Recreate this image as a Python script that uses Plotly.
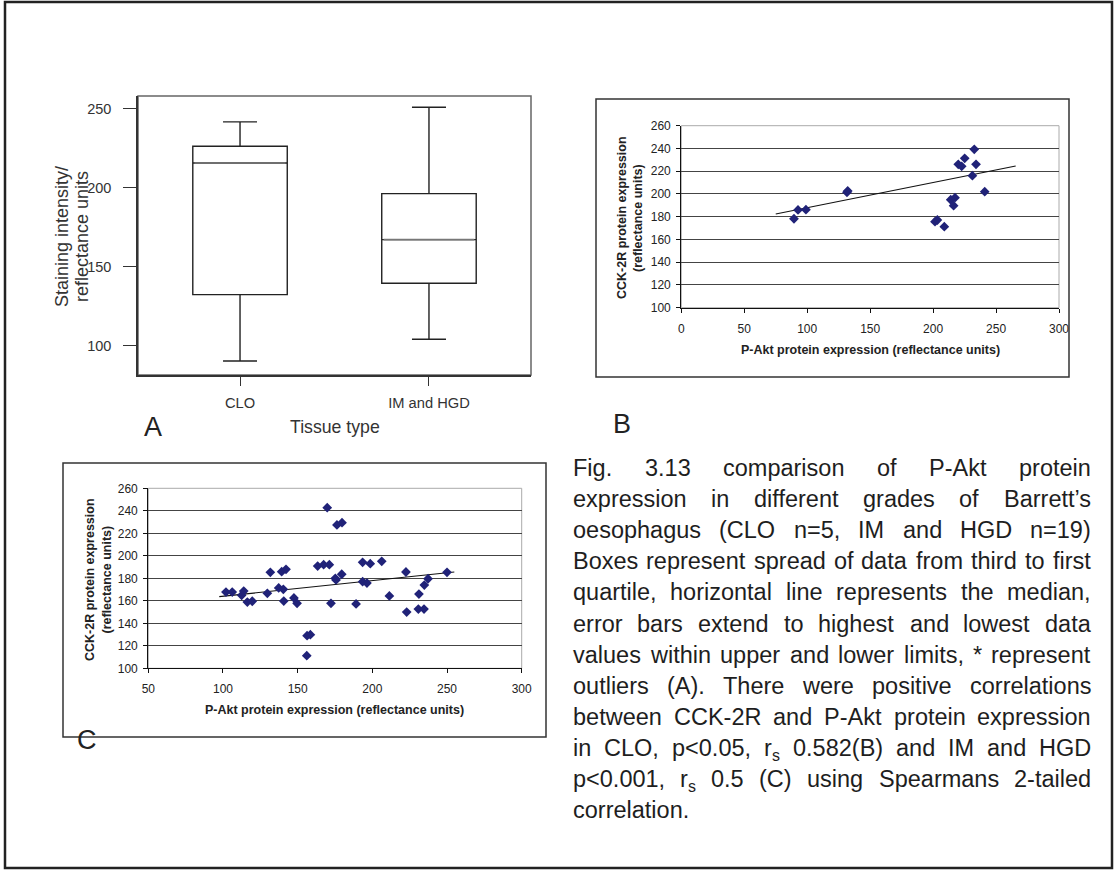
import plotly.graph_objects as go

W, H = 1116, 872
FONT = "Liberation Sans, Arial, sans-serif"

# ---------------- data ----------------
categories = ["CLO", "IM and HGD"]
box_q1 = [132.5, 139.7]
box_median = [215.8, 167.3]
box_q3 = [226.4, 196.4]
box_lower = [90.5, 104.2]
box_upper = [241.8, 251.1]

clo_akt = [89.5, 92.7, 99.0, 131.6, 132.2, 201.5, 203.4, 208.9, 214.0, 217.4,
           216.3, 220.0, 222.7, 225.1, 232.7, 234.1, 231.2, 241.0]
clo_cck = [178.2, 185.9, 186.2, 201.4, 202.6, 175.6, 177.1, 171.2, 194.9, 196.7,
           189.7, 226.1, 224.3, 231.3, 239.2, 226.1, 216.1, 202.0]
clo_trend_x = [75.0, 265.6]
clo_trend_y = [182.4, 224.6]

im_akt = [102.0, 106.2, 112.5, 113.9, 116.3, 119.6, 129.7, 131.7, 137.3, 139.3,
          140.4, 142.2, 140.7, 147.5, 149.6, 156.3, 158.5, 156.1, 163.4, 167.4,
          171.2, 169.8, 172.3, 175.2, 175.7, 176.3, 179.7, 179.5, 189.1, 193.5,
          193.5, 196.4, 198.6, 206.3, 211.4, 222.5, 223.0, 231.2, 230.8, 234.6,
          234.8, 237.3, 250.0]
im_cck = [167.8, 167.8, 164.9, 168.7, 158.9, 159.6, 166.7, 185.3, 171.4, 185.9,
          170.2, 188.0, 159.8, 162.5, 157.8, 129.0, 129.9, 111.2, 190.9, 192.1,
          192.1, 242.8, 157.8, 180.0, 178.5, 227.4, 229.4, 183.6, 157.2, 194.2,
          177.0, 175.8, 193.0, 195.1, 164.3, 185.6, 150.0, 166.0, 152.7, 152.7,
          174.0, 179.6, 185.3]
im_trend_x = [97.5, 254.9]
im_trend_y = [163.7, 185.6]

caption_lines = [
    "Fig. 3.13 comparison of P-Akt protein",
    "expression in different grades of Barrett\u2019s",
    "oesophagus (CLO n=5, IM and HGD n=19)",
    "Boxes represent spread of data from third to first",
    "quartile, horizontal line represents the median,",
    "error bars extend to highest and lowest data",
    "values within upper and lower limits, * represent",
    "outliers (A).  There were positive correlations",
    "between CCK-2R and P-Akt protein expression",
    "in CLO, p<0.05, r_s 0.582(B) and IM and HGD",
    "p<0.001, r_s 0.5 (C) using Spearmans 2-tailed",
    "correlation.",
]


# ---------------- helpers ----------------
def fx(p):
    return p / W


def fy(p):
    return 1 - p / H


HELV = {' ': 278, '!': 278, '"': 355, '#': 556, '$': 556, '%': 889, '&': 667,
        "'": 191, '\u2019': 222, '(': 333, ')': 333, '*': 389, '+': 584, ',': 278,
        '-': 333, '.': 278, '/': 278, ':': 278, ';': 278, '<': 584, '=': 584,
        '>': 584, '?': 556, '@': 1015,
        'A': 667, 'B': 667, 'C': 722, 'D': 722, 'E': 667, 'F': 611, 'G': 778,
        'H': 722, 'I': 278, 'J': 500, 'K': 667, 'L': 556, 'M': 833, 'N': 722,
        'O': 778, 'P': 667, 'Q': 778, 'R': 722, 'S': 667, 'T': 611, 'U': 722,
        'V': 667, 'W': 944, 'X': 667, 'Y': 667, 'Z': 611,
        'a': 556, 'b': 556, 'c': 500, 'd': 556, 'e': 556, 'f': 278, 'g': 556,
        'h': 556, 'i': 222, 'j': 222, 'k': 500, 'l': 222, 'm': 833, 'n': 556,
        'o': 556, 'p': 556, 'q': 556, 'r': 333, 's': 500, 't': 278, 'u': 556,
        'v': 500, 'w': 722, 'x': 500, 'y': 500, 'z': 500}
for d in "0123456789":
    HELV[d] = 556

CAP_FS = 23.5
SUB_SCALE = 0.68
BOX_WIDTH = 0.5
X_RANGE_A = [-0.54, 1.54]


def tw(s, fs):
    return sum(HELV.get(c, 556) for c in s) * fs / 1000.0


def word_width(word, fs):
    if word == "r_s":
        return tw("r", fs) + tw("s", fs * SUB_SCALE)
    return tw(word, fs)


annotations = []


def add_text(x, y, text, size, color="#222", bold=False, angle=0,
             xanchor="center", yanchor="middle"):
    annotations.append(dict(
        x=fx(x), y=fy(y), xref="paper", yref="paper", text=text,
        showarrow=False, textangle=angle, xanchor=xanchor, yanchor=yanchor,
        font=dict(family=FONT, size=size, color=color,
                  weight="bold" if bold else "normal")))


def place_word(word, xl, yc, fs):
    if word == "r_s":
        wr = tw("r", fs)
        fs2 = fs * SUB_SCALE
        ws = tw("s", fs2)
        add_text(xl + wr / 2, yc, "r", fs, color="#1e1e1e")
        add_text(xl + wr + ws / 2, yc + 0.32 * fs, "s", fs2, color="#1e1e1e")
    else:
        add_text(xl + word_width(word, fs) / 2, yc, word, fs, color="#1e1e1e")


# ---------------- figure ----------------
fig = go.Figure()

# Panel A: box plot
fig.add_trace(go.Box(
    x=categories, q1=box_q1, median=box_median, q3=box_q3,
    lowerfence=box_lower, upperfence=box_upper,
    width=BOX_WIDTH, whiskerwidth=0.36, fillcolor="white",
    line=dict(color="#222", width=1.4), boxpoints=False,
    xaxis="x", yaxis="y", showlegend=False, hoverinfo="skip"))

# grey median lines drawn on an overlaid numeric axis (category index)
for i, med in enumerate(box_median):
    fig.add_trace(go.Scatter(
        x=[i - BOX_WIDTH / 2 + 0.01, i + BOX_WIDTH / 2 - 0.01], y=[med, med],
        mode="lines", line=dict(color="#777", width=1.6),
        xaxis="x4", yaxis="y", showlegend=False, hoverinfo="skip"))

# Panel B
fig.add_trace(go.Scatter(
    x=clo_trend_x, y=clo_trend_y, mode="lines",
    line=dict(color="#111", width=1.2), xaxis="x2", yaxis="y2",
    showlegend=False))
fig.add_trace(go.Scatter(
    x=clo_akt, y=clo_cck, mode="markers",
    marker=dict(symbol="diamond", size=7.5, color="#202278"),
    xaxis="x2", yaxis="y2", showlegend=False))

# Panel C
fig.add_trace(go.Scatter(
    x=im_trend_x, y=im_trend_y, mode="lines",
    line=dict(color="#111", width=1.2), xaxis="x3", yaxis="y3",
    showlegend=False))
fig.add_trace(go.Scatter(
    x=im_akt, y=im_cck, mode="markers",
    marker=dict(symbol="diamond", size=7.5, color="#202278"),
    xaxis="x3", yaxis="y3", showlegend=False))

tick_small = dict(family=FONT, size=12, color="#222")

fig.update_layout(
    template="none",
    width=W, height=H, autosize=False,
    margin=dict(l=0, r=0, t=0, b=0, pad=0, autoexpand=False),
    paper_bgcolor="white", plot_bgcolor="white",
    font=dict(family=FONT),
    showlegend=False,
    xaxis=dict(domain=[fx(138), fx(531)], anchor="y", type="category",
               categoryorder="array", categoryarray=categories,
               range=X_RANGE_A, showline=True, mirror=False,
               linecolor="#333", linewidth=2, ticks="outside", ticklen=9,
               tickwidth=1.3, tickcolor="#333", showgrid=False, zeroline=False,
               tickfont=dict(family=FONT, size=14.7, color="#333"),
               ticklabelstandoff=4, automargin=False),
    xaxis4=dict(overlaying="x", anchor="y", range=X_RANGE_A, visible=False,
                showgrid=False, zeroline=False, automargin=False),
    yaxis=dict(domain=[fy(375), fy(96)], anchor="x", range=[81.6, 258.2],
               tickvals=[100, 150, 200, 250], showline=True, mirror=False,
               linecolor="#333", linewidth=1.5, ticks="outside", ticklen=13,
               tickwidth=1.3, tickcolor="#333", showgrid=False, zeroline=False,
               tickfont=dict(family=FONT, size=14.5, color="#333"),
               ticklabelstandoff=9, automargin=False),
    xaxis2=dict(domain=[fx(681.3), fx(1059)], anchor="y2", range=[0, 300],
                dtick=50, tick0=0, showline=True, linecolor="#111", linewidth=1.2,
                ticks="outside", ticklen=4, tickcolor="#111", showgrid=False,
                zeroline=False, tickfont=tick_small, ticklabelstandoff=6,
                automargin=False),
    yaxis2=dict(domain=[fy(307.7), fy(125.7)], anchor="x2", range=[100, 260],
                dtick=20, tick0=100, showline=True, linecolor="#111",
                linewidth=1.2, ticks="outside", ticklen=4, tickcolor="#111",
                showgrid=True, gridcolor="#444", gridwidth=1.2, zeroline=False,
                tickfont=tick_small, ticklabelstandoff=3, automargin=False),
    xaxis3=dict(domain=[fx(148.3), fx(521.7)], anchor="y3", range=[50, 300],
                dtick=50, tick0=50, showline=True, linecolor="#111", linewidth=1.2,
                ticks="outside", ticklen=4, tickcolor="#111", showgrid=False,
                zeroline=False, tickfont=tick_small, ticklabelstandoff=5,
                automargin=False),
    yaxis3=dict(domain=[fy(668.3), fy(488.3)], anchor="x3", range=[100, 260],
                dtick=20, tick0=100, showline=True, linecolor="#111",
                linewidth=1.2, ticks="outside", ticklen=4, tickcolor="#111",
                showgrid=True, gridcolor="#444", gridwidth=1.2, zeroline=False,
                tickfont=tick_small, ticklabelstandoff=3, automargin=False),
)

shapes = [
    # outer frame
    dict(type="rect", xref="paper", yref="paper", x0=fx(5), x1=fx(1112),
         y0=fy(868), y1=fy(2), line=dict(color="#222", width=2.5)),
    # panel B frame
    dict(type="rect", xref="paper", yref="paper", x0=fx(596), x1=fx(1069),
         y0=fy(377), y1=fy(99), line=dict(color="#333", width=1.5)),
    # panel C frame
    dict(type="rect", xref="paper", yref="paper", x0=fx(63), x1=fx(546),
         y0=fy(737), y1=fy(463), line=dict(color="#333", width=1.5)),
    # panel A plot-area border (grey top/right)
    dict(type="rect", xref="x domain", yref="y domain", x0=0, x1=1, y0=0, y1=1,
         line=dict(color="#666", width=1.5), layer="below"),
    # plot area borders (light grey)
    dict(type="rect", xref="x2 domain", yref="y2 domain", x0=0, x1=1, y0=0, y1=1,
         line=dict(color="#aaa", width=1), layer="below"),
    dict(type="rect", xref="x3 domain", yref="y3 domain", x0=0, x1=1, y0=0, y1=1,
         line=dict(color="#aaa", width=1), layer="below"),
]
fig.update_layout(shapes=shapes)

# Panel A labels
add_text(62, 237, "Staining intensity/", 18, color="#333", angle=-90)
add_text(82, 237, "reflectance units", 18, color="#333", angle=-90)
add_text(335, 427, "Tissue type", 17.7, color="#333")
add_text(153, 427, "A", 27, color="#222")

# Panel B labels
add_text(870, 350, "P-Akt protein expression (reflectance units)", 12.5,
         color="#222", bold=True)
add_text(622, 218, "CCK-2R protein expression", 12.5, color="#222", bold=True,
         angle=-90)
add_text(638, 218, "(reflectance units)", 12.5, color="#222", bold=True,
         angle=-90)
add_text(622, 424, "B", 27, color="#222")

# Panel C labels
add_text(335, 710, "P-Akt protein expression (reflectance units)", 12.5,
         color="#222", bold=True)
add_text(90, 580, "CCK-2R protein expression", 12.5, color="#222", bold=True,
         angle=-90)
add_text(106.5, 580, "(reflectance units)", 12.5, color="#222", bold=True,
         angle=-90)
add_text(87, 740, "C", 27, color="#222")

# Caption, justified
LEFT, RIGHT = 573, 1091
for i, line in enumerate(caption_lines):
    yc = 468 + 31.1 * i
    words = [w for w in line.split(" ") if w]
    widths = [word_width(w, CAP_FS) for w in words]
    if i == len(caption_lines) - 1 or len(words) == 1:
        gap = tw(" ", CAP_FS)
    else:
        gap = (RIGHT - LEFT - sum(widths)) / (len(words) - 1)
    x = LEFT
    for w, wd in zip(words, widths):
        place_word(w, x, yc, CAP_FS)
        x += wd + gap

fig.update_layout(annotations=annotations)

fig.write_html(
    "out.html",
    post_script="document.body.style.margin='0px';"
                "document.body.style.padding='0px';",
)
